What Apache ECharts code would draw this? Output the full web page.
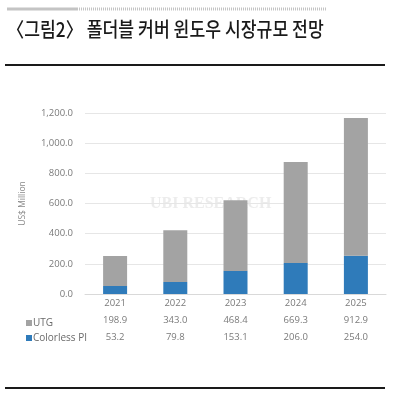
<!DOCTYPE html>
<html><head><meta charset="utf-8">
<script src="https://cdn.jsdelivr.net/npm/echarts@6/dist/echarts.min.js"></script>
<style>html,body{margin:0;padding:0;background:#fff}#c{width:400px;height:395px}</style>
</head><body><div id="c"></div>
<script>
const categories = ['2021','2022','2023','2024','2025'];
const utg = [198.9, 343.0, 468.4, 669.3, 912.9];
const colorlessPI = [53.2, 79.8, 153.1, 206.0, 254.0];
const yTicks = {min: 0, max: 1200, interval: 200};
const titleText = '〈그림2〉 폴더블 커버 윈도우 시장규모 전망';

const chart = echarts.init(document.getElementById('c'));
const fmt = v => v.toLocaleString('en-US', {minimumFractionDigits: 1, maximumFractionDigits: 1});
const labelFont = {fontFamily: 'Open Sans', fontSize: 9.5, color: '#7a7a7a'};

chart.setOption({
  animation: false,
  textStyle: {fontFamily: 'Open Sans'},
  grid: {left: 85, right: 14, top: 113, bottom: 101},
  legend: {
    data: ['UTG', 'Colorless PI'], orient: 'vertical', left: 21, top: 313,
    icon: 'rect', itemWidth: 6, itemHeight: 6, itemGap: 5,
    textStyle: {fontFamily: 'Open Sans', fontSize: 10, color: '#6a6a6a', padding: [0,0,0,-4]}
  },
  xAxis: [
    {type: 'category', data: categories, position: 'bottom',
     axisLine: {lineStyle: {color: '#d9d9d9'}}, axisTick: {show: false},
     axisLabel: Object.assign({margin: 4}, labelFont)},
    {type: 'category', data: utg.map(fmt), position: 'bottom', offset: 17,
     axisLine: {show: false}, axisTick: {show: false},
     axisLabel: Object.assign({margin: 4}, labelFont)},
    {type: 'category', data: colorlessPI.map(fmt), position: 'bottom', offset: 34,
     axisLine: {show: false}, axisTick: {show: false},
     axisLabel: Object.assign({margin: 4}, labelFont)}
  ],
  yAxis: {
    type: 'value', min: yTicks.min, max: yTicks.max, interval: yTicks.interval,
    name: 'US$ Million', nameLocation: 'middle', nameGap: 58, nameRotate: 90,
    nameTextStyle: {fontFamily: 'Open Sans', fontSize: 8.5, color: '#8a8a8a'},
    axisLine: {show: false}, axisTick: {show: false},
    splitLine: {lineStyle: {color: '#e6e6e6'}},
    axisLabel: Object.assign({margin: 12, formatter: fmt}, labelFont)
  },
  series: [
    {name: 'Colorless PI', type: 'bar', stack: 't', data: colorlessPI, barWidth: 24,
     itemStyle: {color: '#2f7bba'}},
    {name: 'UTG', type: 'bar', stack: 't', data: utg, barWidth: 24,
     itemStyle: {color: '#a3a3a3'}}
  ],
  color: ['#2f7bba', '#a3a3a3'],
  graphic: [
    {type: 'line', shape: {x1: 7, y1: 9, x2: 77, y2: 9}, style: {stroke: '#c4c4c4', lineWidth: 3}},
    {type: 'line', shape: {x1: 77, y1: 9, x2: 327, y2: 9}, style: {stroke: '#c4c4c4', lineWidth: 3, lineDash: [1, 1]}},
    {type: 'text', left: 7, top: 19, scaleX: 0.86,
     style: {text: titleText, font: '500 20px "Noto Sans CJK KR"', fill: '#1a1a1a'}},
    {type: 'line', shape: {x1: 5, y1: 65, x2: 385, y2: 65}, style: {stroke: '#1a1a1a', lineWidth: 2}},
    {type: 'line', shape: {x1: 5, y1: 388, x2: 385, y2: 388}, style: {stroke: '#1a1a1a', lineWidth: 2}},
    {type: 'text', left: 150, top: 196, z: -1,
     style: {text: 'UBI RESEARCH', font: 'bold 16px "Liberation Serif"', fill: 'rgba(200,200,200,0.35)'}}
  ]
});
</script></body></html>
